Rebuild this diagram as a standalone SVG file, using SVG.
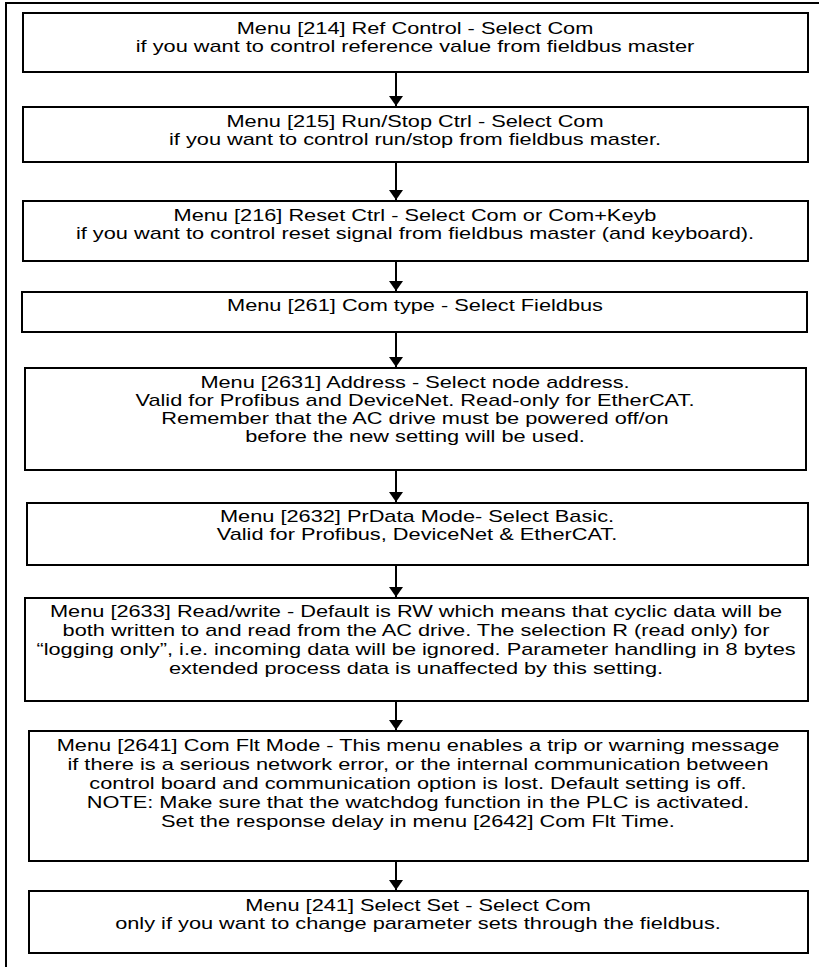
<svg xmlns="http://www.w3.org/2000/svg" width="819" height="967" viewBox="0 0 819 967">
<style>
.box{fill:#fff;stroke:#000;stroke-width:2}
.frame{fill:none;stroke:#000;stroke-width:2}
.t{font-family:"Liberation Sans",Arial,sans-serif;font-size:17px;fill:#000;text-anchor:middle}
.c{stroke:#000;stroke-width:2;fill:none}
</style>
<defs>
<marker id="ah" viewBox="0 0 10 14" refX="10" refY="7" markerWidth="10" markerHeight="14" markerUnits="userSpaceOnUse" orient="auto">
<path d="M0,0 L10,7 L0,14 Z" fill="#000"/>
</marker>
</defs>
<rect width="819" height="967" fill="#fff"/>
<path class="frame" d="M6,967 V3 H819"/>
<g id="connectors">
<line class="c" x1="396" y1="73" x2="396" y2="106" marker-end="url(#ah)"/>
<line class="c" x1="396" y1="163" x2="396" y2="200" marker-end="url(#ah)"/>
<line class="c" x1="396" y1="262" x2="396" y2="291" marker-end="url(#ah)"/>
<line class="c" x1="396" y1="333" x2="396" y2="367" marker-end="url(#ah)"/>
<line class="c" x1="396" y1="471" x2="396" y2="502" marker-end="url(#ah)"/>
<line class="c" x1="396" y1="566" x2="396" y2="597" marker-end="url(#ah)"/>
<line class="c" x1="396" y1="702" x2="396" y2="730" marker-end="url(#ah)"/>
<line class="c" x1="396" y1="862" x2="396" y2="890" marker-end="url(#ah)"/>
</g>
<g id="n214">
<rect class="box" x="23" y="13" width="785" height="59"/>
<text class="t" transform="translate(415 0) scale(1.28 1)"><tspan x="0" y="34">Menu [214] Ref Control - Select Com</tspan><tspan x="0" y="52">if you want to control reference value from fieldbus master</tspan></text>
</g>
<g id="n215">
<rect class="box" x="23" y="107" width="785" height="55"/>
<text class="t" transform="translate(415 0) scale(1.28 1)"><tspan x="0" y="127">Menu [215] Run/Stop Ctrl - Select Com</tspan><tspan x="0" y="145">if you want to control run/stop from fieldbus master.</tspan></text>
</g>
<g id="n216">
<rect class="box" x="23" y="201" width="785" height="60"/>
<text class="t" transform="translate(415 0) scale(1.28 1)"><tspan x="0" y="221">Menu [216] Reset Ctrl - Select Com or Com+Keyb</tspan><tspan x="0" y="239">if you want to control reset signal from fieldbus master (and keyboard).</tspan></text>
</g>
<g id="n261">
<rect class="box" x="22" y="292" width="785" height="40"/>
<text class="t" transform="translate(415 0) scale(1.28 1)"><tspan x="0" y="311">Menu [261] Com type - Select Fieldbus</tspan></text>
</g>
<g id="n2631">
<rect class="box" x="25" y="368" width="781" height="102"/>
<text class="t" transform="translate(415 0) scale(1.28 1)"><tspan x="0" y="388">Menu [2631] Address - Select node address.</tspan><tspan x="0" y="406">Valid for Profibus and DeviceNet. Read-only for EtherCAT.</tspan><tspan x="0" y="424">Remember that the AC drive must be powered off/on</tspan><tspan x="0" y="442">before the new setting will be used.</tspan></text>
</g>
<g id="n2632">
<rect class="box" x="27" y="503" width="781" height="62"/>
<text class="t" transform="translate(417 0) scale(1.28 1)"><tspan x="0" y="522">Menu [2632] PrData Mode- Select Basic.</tspan><tspan x="0" y="540">Valid for Profibus, DeviceNet &amp; EtherCAT.</tspan></text>
</g>
<g id="n2633">
<rect class="box" x="25" y="598" width="783" height="103"/>
<text class="t" transform="translate(416 0) scale(1.28 1)"><tspan x="0" y="617">Menu [2633] Read/write - Default is RW which means that cyclic data will be</tspan><tspan x="0" y="636">both written to and read from the AC drive. The selection R (read only) for</tspan><tspan x="0" y="655">“logging only”, i.e. incoming data will be ignored. Parameter handling in 8 bytes</tspan><tspan x="0" y="674">extended process data is unaffected by this setting.</tspan></text>
</g>
<g id="n2641">
<rect class="box" x="29" y="731" width="779" height="130"/>
<text class="t" transform="translate(418 0) scale(1.28 1)"><tspan x="0" y="751">Menu [2641] Com Flt Mode - This menu enables a trip or warning message</tspan><tspan x="0" y="770">if there is a serious network error, or the internal communication between</tspan><tspan x="0" y="789">control board and communication option is lost. Default setting is off.</tspan><tspan x="0" y="808">NOTE: Make sure that the watchdog function in the PLC is activated.</tspan><tspan x="0" y="827">Set the response delay in menu [2642] Com Flt Time.</tspan></text>
</g>
<g id="n241">
<rect class="box" x="29" y="891" width="779" height="62"/>
<text class="t" transform="translate(418 0) scale(1.28 1)"><tspan x="0" y="911">Menu [241] Select Set - Select Com</tspan><tspan x="0" y="929">only if you want to change parameter sets through the fieldbus.</tspan></text>
</g>
</svg>
